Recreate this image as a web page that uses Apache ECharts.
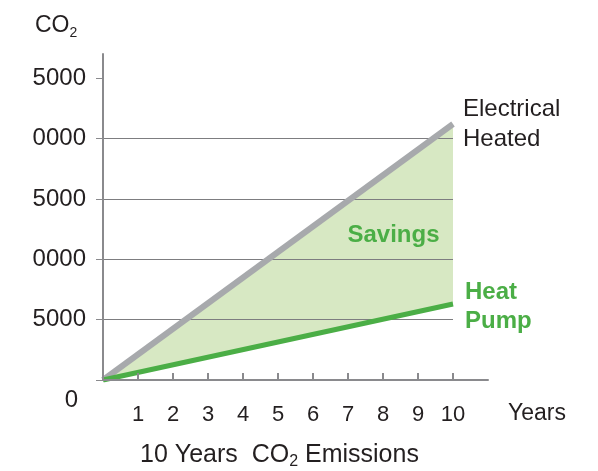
<!DOCTYPE html>
<html>
<head>
<meta charset="utf-8">
<title>10 Years CO2 Emissions</title>
<script src="https://cdn.jsdelivr.net/npm/echarts@6/dist/echarts.min.js"></script>
<style>
html, body { margin: 0; padding: 0; background: #fff; }
#charts { width: 598px; height: 471px; }
</style>
</head>
<body>
<div id="charts"></div>
<script type="text/javascript">
// values
var years = [0, 10];
var electricalValues = [0, 21200];
var heatPumpValues = [0, 6300];
var yTickValues = [0, 5000, 10000, 15000, 20000, 25000];
var yTickLabels = ['0', '5000', '0000', '5000', '0000', '5000'];
var xTickValues = [0, 1, 2, 3, 4, 5, 6, 7, 8, 9, 10];
var xLabelValues = [1, 2, 3, 4, 5, 6, 7, 8, 9, 10];

var font = 'Liberation Sans, Arial, Helvetica, sans-serif';
var textColor = '#231f20';
var green = '#4bae46';
var grey = '#a7a9ac';
var axisGrey = '#8a8a8d';

var dom = document.getElementById("charts");
var myChart = echarts.init(dom);

// light green area between the two lines
function renderSavings(params, api) {
    var i = params.dataIndex;
    if (i >= years.length - 1) return;
    var pts = [
        api.coord([years[i], electricalValues[i]]),
        api.coord([years[i + 1], electricalValues[i + 1]]),
        api.coord([years[i + 1], heatPumpValues[i + 1]]),
        api.coord([years[i], heatPumpValues[i]])
    ];
    return {
        type: 'polygon',
        shape: { points: pts },
        style: { fill: '#d7e8c3' }
    };
}

var option = {
    animation: false,
    title: [
        {
            text: '10 Years  CO{sub|2} Emissions',
            left: 140,
            top: 440,
            padding: 0,
            textStyle: {
                fontFamily: font, fontSize: 25, fontWeight: 'normal', color: textColor,
                rich: { sub: { fontFamily: font, fontSize: 16, color: textColor, padding: [14, 0, 0, 0] } }
            }
        },
        {
            text: 'CO{sub|2}',
            left: 35,
            top: 12,
            padding: 0,
            textStyle: {
                fontFamily: font, fontSize: 23, fontWeight: 'normal', color: textColor,
                rich: { sub: { fontFamily: font, fontSize: 14, color: textColor, padding: [14, 0, 0, 0] } }
            }
        }
    ],
    grid: [
        { left: 103, top: 54, width: 350, bottom: 91, containLabel: false },
        { left: 103, top: 54, width: 385, bottom: 91, containLabel: false }
    ],
    xAxis: [
        {
            type: 'value',
            gridIndex: 0,
            min: 0,
            max: 10,
            interval: 1,
            show: true,
            axisLine: { show: false },
            axisTick: { show: false },
            axisLabel: { show: false },
            splitLine: { show: false }
        },
        {
            type: 'value',
            gridIndex: 1,
            min: 0,
            max: 11,
            interval: 1,
            name: 'Years',
            nameLocation: 'end',
            nameGap: 20,
            nameTextStyle: { fontFamily: font, fontSize: 23, color: textColor, align: 'left', verticalAlign: 'top', padding: [22, 0, 0, 0] },
            axisLine: { show: true, lineStyle: { color: axisGrey, width: 2 } },
            axisTick: { show: true, inside: true, length: 7, customValues: xTickValues, lineStyle: { color: axisGrey, width: 2 } },
            axisLabel: { customValues: xLabelValues, margin: 24, fontFamily: font, fontSize: 22, color: textColor },
            splitLine: { show: false },
            z: 5
        }
    ],
    yAxis: [
        {
            type: 'value',
            gridIndex: 0,
            min: 0,
            max: 27000,
            interval: 5000,
            z: 2,
            axisLine: { show: true, lineStyle: { color: axisGrey, width: 2 } },
            axisTick: { show: true, length: 7, customValues: yTickValues, lineStyle: { color: axisGrey, width: 1 } },
            axisLabel: {
                customValues: yTickValues,
                margin: 17,
                fontFamily: font,
                fontSize: 24,
                color: textColor,
                formatter: function (v) {
                    var i = yTickValues.indexOf(v);
                    if (v === 0) return '{low|' + yTickLabels[i] + '}';
                    return yTickLabels[i];
                },
                rich: { low: { fontFamily: font, fontSize: 24, color: textColor, padding: [40, 8, 0, 0] } }
            },
            splitLine: { show: true, showMaxLine: false, showMinLine: false, lineStyle: { color: '#7d7d80', width: 1 } }
        },
        {
            type: 'value',
            gridIndex: 1,
            min: 0,
            max: 27000,
            show: false
        }
    ],
    series: [
        {
            name: 'Savings',
            type: 'custom',
            xAxisIndex: 0,
            yAxisIndex: 0,
            renderItem: renderSavings,
            data: years.map(function (y, i) { return [y, electricalValues[i], heatPumpValues[i]]; }),
            encode: { x: 0, y: [1, 2] },
            z: 1,
            silent: true
        },
        {
            name: 'Electrical Heated',
            type: 'line',
            xAxisIndex: 0,
            yAxisIndex: 0,
            data: years.map(function (y, i) { return [y, electricalValues[i]]; }),
            symbol: 'none',
            lineStyle: { color: grey, width: 6, cap: 'butt' },
            z: 3,
            endLabel: {
                show: true,
                formatter: 'Electrical\nHeated',
                fontFamily: font, fontSize: 24, lineHeight: 30, color: textColor,
                distance: 10,
                offset: [0, 0]
            },
            markPoint: {
                symbol: 'circle',
                symbolSize: 1,
                itemStyle: { color: 'rgba(0,0,0,0)' },
                label: { show: true, position: 'inside', formatter: 'Savings', fontFamily: font, fontSize: 24, fontWeight: 'bold', color: green },
                data: [{ coord: [8.3, 12000] }]
            }
        },
        {
            name: 'Heat Pump',
            type: 'line',
            xAxisIndex: 0,
            yAxisIndex: 0,
            data: years.map(function (y, i) { return [y, heatPumpValues[i]]; }),
            symbol: 'none',
            lineStyle: { color: green, width: 5, cap: 'butt' },
            z: 4,
            endLabel: {
                show: true,
                formatter: 'Heat\nPump',
                fontFamily: font, fontSize: 24, lineHeight: 29, fontWeight: 'bold', color: green,
                distance: 12,
                offset: [0, 3]
            }
        }
    ]
};
myChart.setOption(option, true);
</script>
</body>
</html>
